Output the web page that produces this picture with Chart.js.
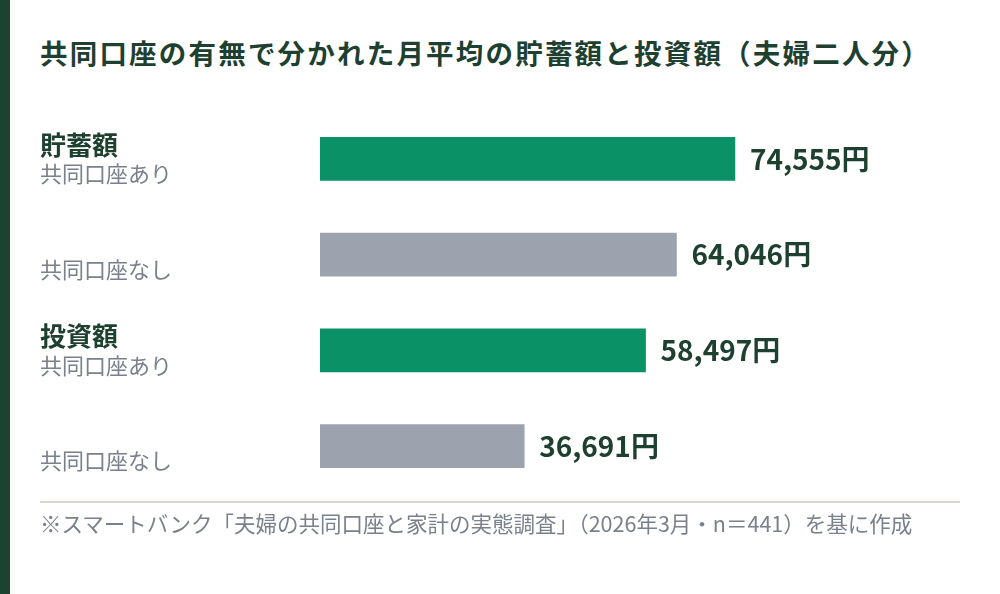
<!DOCTYPE html>
<html lang="ja">
<head>
<meta charset="utf-8">
<script src="https://cdn.jsdelivr.net/npm/chart.js@4"></script>
<title>共同口座の有無で分かれた月平均の貯蓄額と投資額</title>
<style>
  html, body { margin: 0; padding: 0; background: #fff; }
  body { width: 1000px; height: 594px; position: relative; overflow: hidden;
         font-family: "Noto Sans CJK JP", "Noto Sans", sans-serif; }
  #stripe { position: absolute; left: 0; top: 0; width: 10px; height: 594px; background: #1c4230; }
  #title { position: absolute; left: 40px; top: 32px; margin: 0; font-size: 27.5px; font-weight: 700;
           letter-spacing: 2.2px; color: #1e4030; white-space: nowrap; line-height: 40px; }
  #rule { position: absolute; left: 40px; top: 501px; width: 920px; height: 2px; background: #d9d7cc; }
  #note { position: absolute; left: 40px; top: 509px; font-size: 21.5px; color: #7a808c;
          white-space: nowrap; line-height: 28px; }
  #wrap { position: absolute; left: 0; top: 0; width: 1000px; height: 594px; }
</style>
</head>
<body>
<div id="stripe"></div>
<h1 id="title">共同口座の有無で分かれた月平均の貯蓄額と投資額（夫婦二人分）</h1>
<div id="wrap"><canvas id="chart"></canvas></div>
<div id="rule"></div>
<div id="note">※スマートバンク「夫婦の共同口座と家計の実態調査」（2026年3月・n＝441）を基に作成</div>

<script>
    const categories = ["貯蓄額・共同口座あり", "貯蓄額・共同口座なし", "投資額・共同口座あり", "投資額・共同口座なし"];
    const groupLabels = ["貯蓄額", "", "投資額", ""];
    const subLabels = ["共同口座あり", "共同口座なし", "共同口座あり", "共同口座なし"];
    const values = [74555, 64046, 58497, 36691];
    const barColors = ["#0a9166", "#9ca3af", "#0a9166", "#9ca3af"];

    const labelPlugin = {
        id: "labels",
        afterDatasetsDraw(chart) {
            const ctx = chart.ctx;
            const yScale = chart.scales.y;
            const meta = chart.getDatasetMeta(0);
            ctx.save();
            ctx.textBaseline = "middle";

            // value labels right of each bar
            ctx.font = "600 28px 'Noto Sans CJK JP', 'Noto Sans', sans-serif";
            ctx.fillStyle = "#1e4030";
            ctx.textAlign = "left";
            meta.data.forEach((bar, i) => {
                ctx.fillText(values[i].toLocaleString("en-US") + "円", bar.x + 15, bar.y);
            });

            // category labels on the left
            categories.forEach((c, i) => {
                const y = yScale.getPixelForValue(i);
                if (groupLabels[i]) {
                    ctx.font = "700 26px 'Noto Sans CJK JP', sans-serif";
                    ctx.fillStyle = "#1e4030";
                    ctx.fillText(groupLabels[i], 40, y - 14);
                }
                ctx.font = "400 22px 'Noto Sans CJK JP', sans-serif";
                ctx.fillStyle = "#7a808c";
                ctx.fillText(subLabels[i], 40, y + 15);
            });
            ctx.restore();
        }
    };

    new Chart(document.getElementById("chart"), {
        type: "bar",
        data: {
            labels: categories,
            datasets: [{
                data: values,
                backgroundColor: barColors,
                borderWidth: 0,
                barThickness: 43
            }]
        },
        options: {
            indexAxis: "y",
            responsive: true,
            maintainAspectRatio: false,
            animation: false,
            layout: { padding: { left: 320, right: 40, top: 111, bottom: 100 } },
            scales: {
                x: { display: false, min: 0, max: 115000 },
                y: { display: false }
            },
            plugins: {
                legend: { display: false },
                tooltip: { enabled: false }
            }
        },
        plugins: [labelPlugin]
    });
</script>
</body>
</html>
